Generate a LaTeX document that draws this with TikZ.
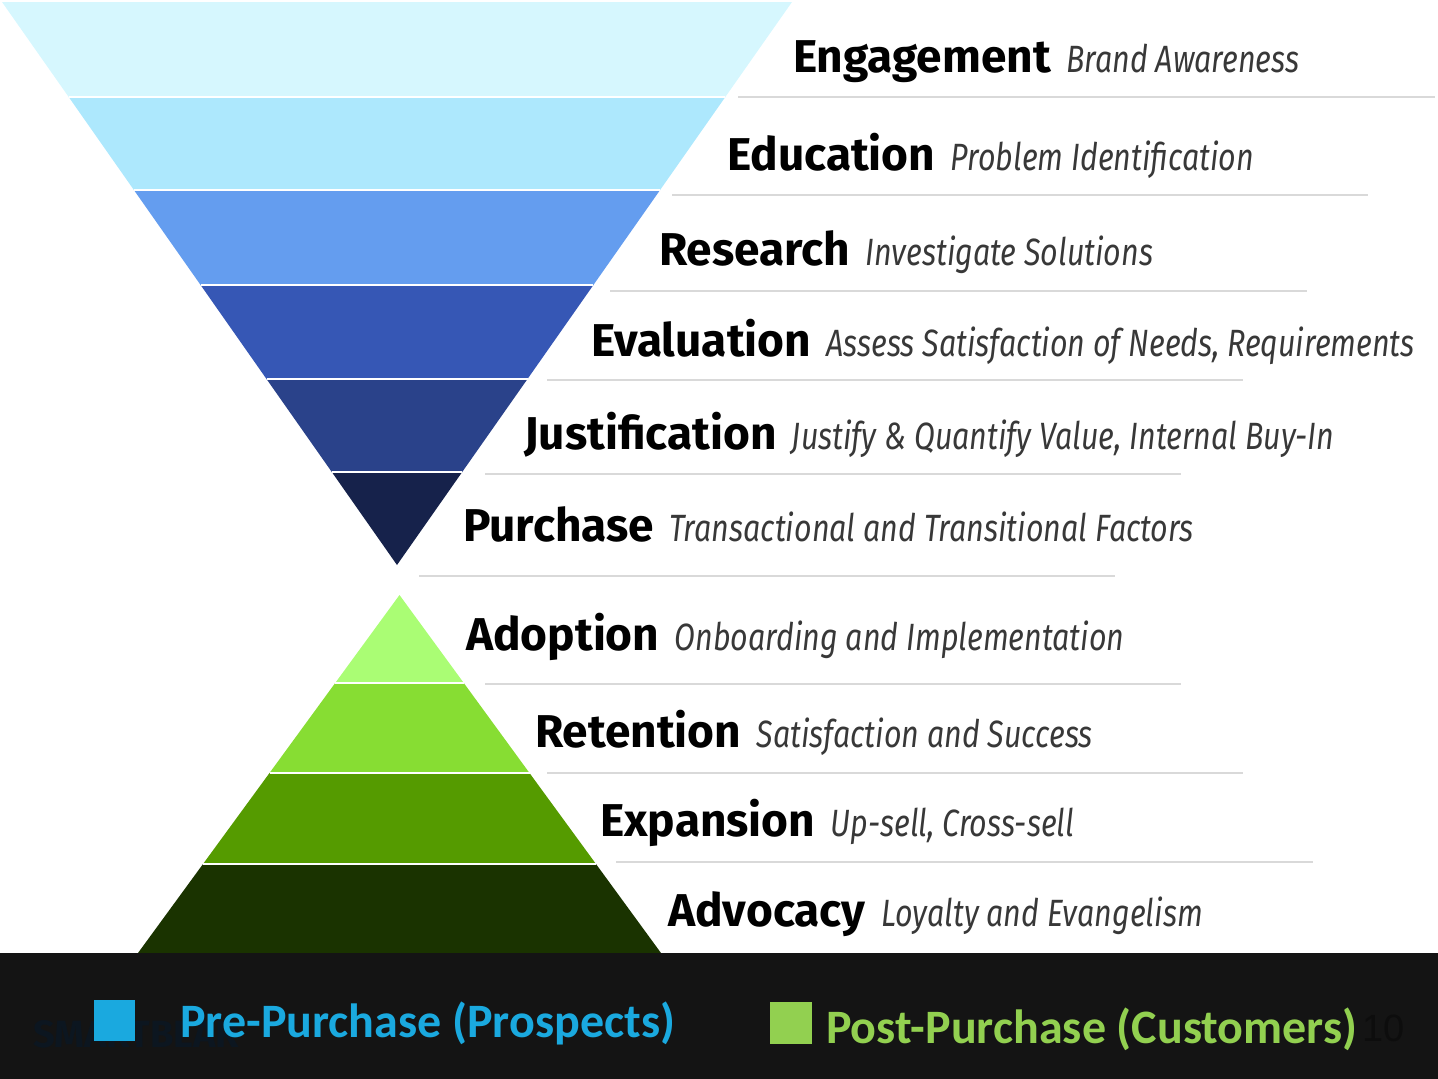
\documentclass[tikz,border=0pt]{standalone}
\usepackage{fontspec}
\setmainfont{Fira Sans}
\newfontfamily\lblfont{Fira Sans}
\newfontfamily\descfont[FakeStretch=0.80]{Fira Sans}
\newfontfamily\barfont{Carlito}
\newfontfamily\numfont{Liberation Sans}
\definecolor{fA}{HTML}{D6F7FE}
\definecolor{fB}{HTML}{ADE8FD}
\definecolor{fC}{HTML}{649DEF}
\definecolor{fD}{HTML}{3657B5}
\definecolor{fE}{HTML}{2A428A}
\definecolor{fF}{HTML}{16224B}
\definecolor{pA}{HTML}{AAFD74}
\definecolor{pB}{HTML}{87DD33}
\definecolor{pC}{HTML}{559B00}
\definecolor{pD}{HTML}{1A3300}
\definecolor{sepgray}{HTML}{D9D9D9}
\definecolor{barbg}{HTML}{141414}
\definecolor{preblue}{HTML}{1AA9DF}
\definecolor{postgreen}{HTML}{92D050}
\definecolor{logo}{HTML}{0C1620}
\tikzset{
  lbl/.style={anchor=base west, inner sep=0pt, font=\lblfont\bfseries\fontsize{46}{50}\selectfont},
  desc/.style={anchor=base west, inner sep=0pt, font=\descfont\itshape\fontsize{38}{42}\selectfont, text=black!78},
  sepline/.style={draw=sepgray, line width=1.5pt},
  gap/.style={draw=white, line width=2.5pt},
  bartext/.style={anchor=base west, inner sep=0pt, font=\barfont\bfseries\fontsize{48}{52}\selectfont}
}
\begin{document}
\begin{tikzpicture}[x=1pt,y=-1pt]
\useasboundingbox (0,0) rectangle (1438,1079);
% funnel
\fill[fA] (2,2) -- (792,2) -- (725.3,97) -- (68.7,97) -- cycle;
\fill[fB] (68.7,97) -- (725.3,97) -- (660.1,190) -- (133.9,190) -- cycle;
\fill[fC] (133.9,190) -- (660.1,190) -- (593.4,285) -- (200.6,285) -- cycle;
\fill[fD] (200.6,285) -- (593.4,285) -- (527.5,379) -- (266.5,379) -- cycle;
\fill[fE] (266.5,379) -- (527.5,379) -- (462.2,472) -- (331.8,472) -- cycle;
\fill[fF] (331.8,472) -- (462.2,472) -- (397,565) -- cycle;
\draw[gap] (68.7,97) -- (725.3,97);
\draw[gap] (133.9,190) -- (660.1,190);
\draw[gap] (200.6,285) -- (593.4,285);
\draw[gap] (266.5,379) -- (527.5,379);
\draw[gap] (331.8,472) -- (462.2,472);
% pyramid
\fill[pA] (399.5,595) -- (463.8,683) -- (335.2,683) -- cycle;
\fill[pB] (335.2,683) -- (463.8,683) -- (529.5,773) -- (269.5,773) -- cycle;
\fill[pC] (269.5,773) -- (529.5,773) -- (596,864) -- (203,864) -- cycle;
\fill[pD] (203,864) -- (596,864) -- (661,953) -- (138,953) -- cycle;
\draw[gap] (335.2,683) -- (463.8,683);
\draw[gap] (269.5,773) -- (529.5,773);
\draw[gap] (203,864) -- (596,864);
% separator lines
\draw[sepline] (738,97) -- (1435,97);
\draw[sepline] (672,195) -- (1368,195);
\draw[sepline] (610,291) -- (1307,291);
\draw[sepline] (547,380) -- (1243,380);
\draw[sepline] (485,474) -- (1181,474);
\draw[sepline] (419,576) -- (1115,576);
\draw[sepline] (485,684) -- (1181,684);
\draw[sepline] (547,773) -- (1243,773);
\draw[sepline] (616,862) -- (1313,862);
% labels
\node[lbl] (l1) at (793,72) {Engagement};
\node[desc] (d1) at ([xshift=15pt]l1.base east) {Brand Awareness};
\node[lbl] (l2) at (727,170) {Education};
\node[desc] (d2) at ([xshift=15pt]l2.base east) {Problem Identification};
\node[lbl] (l3) at (659,265) {Research};
\node[desc] (d3) at ([xshift=15pt]l3.base east) {Investigate Solutions};
\node[lbl] (l4) at (591,356) {Evaluation};
\node[desc] (d4) at ([xshift=15pt]l4.base east) {Assess Satisfaction of Needs, Requirements};
\node[lbl] (l5) at (524,449) {Justification};
\node[desc] (d5) at ([xshift=15pt]l5.base east) {Justify \& Quantify Value, Internal Buy-In};
\node[lbl] (l6) at (463,541) {Purchase};
\node[desc] (d6) at ([xshift=15pt]l6.base east) {Transactional and Transitional Factors};
\node[lbl] (l7) at (466,650) {Adoption};
\node[desc] (d7) at ([xshift=15pt]l7.base east) {Onboarding and Implementation};
\node[lbl] (l8) at (535,747) {Retention};
\node[desc] (d8) at ([xshift=15pt]l8.base east) {Satisfaction and Success};
\node[lbl] (l9) at (600,836) {Expansion};
\node[desc] (d9) at ([xshift=15pt]l9.base east) {Up-sell, Cross-sell};
\node[lbl] (l10) at (668,926) {Advocacy};
\node[desc] (d10) at ([xshift=15pt]l10.base east) {Loyalty and Evangelism};
% bottom bar
\fill[barbg] (0,953) rectangle (1438,1079);
\node[anchor=base west, inner sep=0pt, text=logo, font=\lblfont\bfseries\fontsize{38}{40}\selectfont] (logo) at (33,1047) {SMARTBEAR};
\fill[preblue] (94,1000) rectangle (135,1041);
\node[bartext, text=preblue] (pre) at (180,1037) {Pre-Purchase (Prospects)};
\fill[postgreen] (770,1002) rectangle (812,1044);
\node[bartext, text=postgreen] (post) at (826,1043) {Post-Purchase (Customers)};
\node[anchor=base west, inner sep=0pt, text=black!95, font=\numfont\fontsize{38}{40}\selectfont] (pnum) at (1362,1041) {10};
\end{tikzpicture}
\end{document}
